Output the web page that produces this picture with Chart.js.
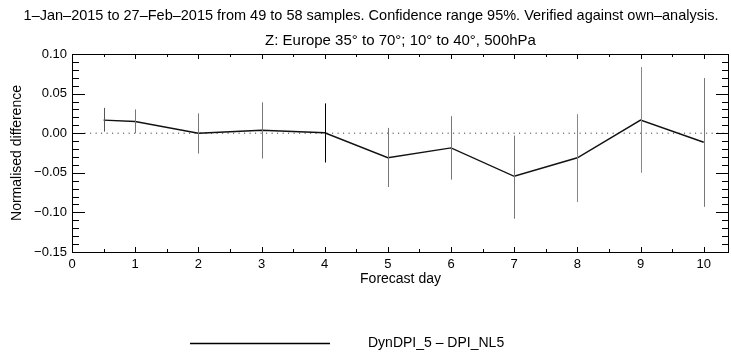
<!DOCTYPE html>
<html>
<head>
<meta charset="utf-8">
<script src="https://cdn.jsdelivr.net/npm/chart.js@4.4.1/dist/chart.umd.min.js"></script>
<style>
  html, body { margin: 0; padding: 0; background: #fff; }
  #wrap { position: relative; width: 731px; height: 354px; }
</style>
</head>
<body>
<div id="wrap"><canvas id="chart" width="731" height="354"></canvas></div>
<script>
// Forecast days and normalised difference with 95% confidence range
const forecastDays = [0.5, 1, 2, 3, 4, 5, 6, 7, 8, 9, 10];
const meanDiff   = [0.0165, 0.0148, 0.0000, 0.0038, 0.0005, -0.0310, -0.0186, -0.0544, -0.0310, 0.0165, -0.0114];
const upperLimit = [0.0320, 0.0300, 0.0250, 0.0390, 0.0376, 0.0067, 0.0215, -0.0030, 0.0240, 0.0835, 0.0696];
const lowerLimit = [0.0020, 0.0000, -0.0257, -0.0320, -0.0370, -0.0680, -0.0586, -0.1080, -0.0870, -0.0500, -0.0930];
const yTicks = [-0.15, -0.10, -0.05, 0.00, 0.05, 0.10];
const xTicks = [0, 1, 2, 3, 4, 5, 6, 7, 8, 9, 10];

const headerText = '1\u2013Jan\u20132015 to 27\u2013Feb\u20132015 from 49 to 58 samples. Confidence range 95%. Verified against own\u2013analysis.';
const titleText = 'Z: Europe 35\u00b0 to 70\u00b0; 10\u00b0 to 40\u00b0, 500hPa';
const seriesLabel = 'DynDPI_5 \u2013 DPI_NL5';

const FONT = '"Liberation Sans", Arial, Helvetica, sans-serif';
const barColors = ['#555', '#777', '#777', '#777', '#000', '#777', '#777', '#777', '#888', '#888', '#777'];

// error bars, frame with inward ticks, titles and legend
const decorPlugin = {
    id: 'decor',
    afterDatasetsDraw(chart) {
        const { ctx, chartArea: a, scales: { x, y } } = chart;
        ctx.save();

        // error bars
        ctx.lineWidth = 1;
        forecastDays.forEach((d, i) => {
            const px = Math.round(x.getPixelForValue(d)) + 0.5;
            ctx.strokeStyle = barColors[i];
            ctx.beginPath();
            ctx.moveTo(px, y.getPixelForValue(upperLimit[i]));
            ctx.lineTo(px, y.getPixelForValue(lowerLimit[i]));
            ctx.stroke();
        });

        // frame
        ctx.strokeStyle = '#000';
        ctx.lineWidth = 1;
        ctx.strokeRect(Math.round(a.left) + 0.5, Math.round(a.top) + 0.5,
                       Math.round(a.right - a.left) - 1, Math.round(a.bottom - a.top));

        // y ticks (inward, left & right)
        ctx.beginPath();
        for (let v = -0.15; v <= 0.1001; v += 0.01) {
            const py = Math.round(y.getPixelForValue(v)) + 0.5;
            const major = Math.abs(Math.round(v * 100) % 5) === 0;
            const len = major ? 13 : 7;
            ctx.moveTo(a.left, py); ctx.lineTo(a.left + len, py);
            ctx.moveTo(a.right, py); ctx.lineTo(a.right - len, py);
        }
        // x ticks (inward, top & bottom)
        for (let v = 0; v <= 10.4; v += 0.5) {
            const px = Math.round(x.getPixelForValue(v)) + 0.5;
            const major = Math.abs(v - Math.round(v)) < 1e-6;
            const len = major ? 5 : 3;
            ctx.moveTo(px, a.top); ctx.lineTo(px, a.top + len);
            ctx.moveTo(px, a.bottom); ctx.lineTo(px, a.bottom - len);
        }
        ctx.stroke();

        // titles
        ctx.fillStyle = '#000';
        ctx.textBaseline = 'middle';
        ctx.textAlign = 'center';
        ctx.font = '14.5px ' + FONT;
        ctx.fillText(headerText, 371, 16);
        ctx.font = '15px ' + FONT;
        ctx.fillText(titleText, (a.left + a.right) / 2, 41);

        // legend
        ctx.beginPath();
        ctx.lineWidth = 1.3;
        ctx.moveTo(190, 343.5); ctx.lineTo(330, 343.5);
        ctx.stroke();
        ctx.textAlign = 'left';
        ctx.font = '14px ' + FONT;
        ctx.fillText(seriesLabel, 368, 343);

        ctx.restore();
    }
};

new Chart(document.getElementById('chart'), {
    type: 'line',
    data: {
        datasets: [{
            label: seriesLabel,
            data: forecastDays.map((d, i) => ({ x: d, y: meanDiff[i] })),
            borderColor: '#111',
            borderWidth: 1.4,
            pointRadius: 0,
            tension: 0
        }, {
            label: 'zero',
            data: [{ x: 0.2, y: 0 }, { x: 10.4, y: 0 }],
            borderColor: '#222',
            borderWidth: 1,
            borderDash: [1, 4.5],
            pointRadius: 0
        }]
    },
    options: {
        responsive: false,
        animation: false,
        layout: { padding: { left: 0, right: 2, top: 54, bottom: 66 } },
        plugins: {
            legend: { display: false },
            tooltip: { enabled: false },
            title: { display: false }
        },
        scales: {
            x: {
                type: 'linear',
                min: 0,
                max: 10.4,
                afterBuildTicks: s => { s.ticks = xTicks.map(v => ({ value: v })); },
                afterFit: s => { s.height = 36; },
                grid: { display: false, drawTicks: false },
                border: { display: false },
                ticks: { color: '#000', padding: 5, font: { family: FONT, size: 13 }, maxRotation: 0 },
                title: { display: true, text: 'Forecast day', color: '#000', padding: 0, font: { family: FONT, size: 14 } }
            },
            y: {
                min: -0.15,
                max: 0.10,
                afterBuildTicks: s => { s.ticks = yTicks.map(v => ({ value: v })); },
                afterFit: s => { s.width = 72; },
                grid: { display: false, drawTicks: false },
                border: { display: false },
                ticks: {
                    color: '#000', padding: 5, font: { family: FONT, size: 13 },
                    callback: v => (v < 0 ? '\u2212' : '') + Math.abs(v).toFixed(2)
                },
                title: { display: true, text: 'Normalised difference', color: '#000', padding: { top: 9 }, font: { family: FONT, size: 14 } }
            }
        }
    },
    plugins: [decorPlugin]
});
</script>
</body>
</html>
